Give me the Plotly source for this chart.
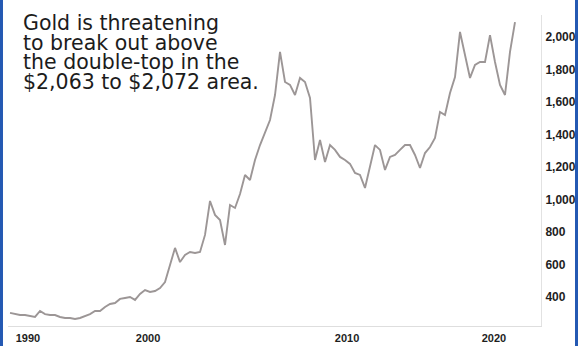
import plotly.graph_objects as go

start_year = 1988.13
step_year = 0.3209
gold_price = [
    302, 295, 289, 289, 283, 277, 314, 295, 289, 289,
    277, 271, 271, 265, 271, 283, 295, 314, 314, 339,
    357, 363, 388, 394, 400, 382, 419, 443, 431, 437,
    455, 492, 597, 702, 615, 659, 677, 671, 677, 782,
    991, 905, 874, 720, 966, 948, 1034, 1151, 1120, 1243,
    1335, 1409, 1489, 1643, 1908, 1723, 1705, 1643, 1748, 1723,
    1625, 1243, 1366, 1231, 1335, 1305, 1262, 1243, 1219, 1163,
    1151, 1071, 1212, 1335, 1305, 1182, 1262, 1274, 1305, 1335,
    1335, 1274, 1194, 1286, 1323, 1379, 1539, 1520, 1655, 1754,
    2031, 1889, 1748, 1828, 1846, 1846, 2012, 1846, 1705, 1643,
    1908, 2092,
]
years = [start_year + step_year * i for i in range(len(gold_price))]

# tick labels (positions as they appear on the chart's time axis)
x_tick_vals = [1989.28, 1996.99, 2009.76, 2019.19]
x_tick_text = ["1990", "2000", "2010", "2020"]
y_tick_vals = [400, 600, 800, 1000, 1200, 1400, 1600, 1800, 2000]

note_lines = [
    "Gold is threatening",
    "to break out above",
    "the double-top in the",
    "$2,063 to $2,072 area.",
]

fig = go.Figure()
fig.add_trace(go.Scatter(
    x=years, y=gold_price, mode="lines",
    line=dict(color="#9c9696", width=1.9),
    hoverinfo="skip", showlegend=False,
))

fig.update_layout(
    width=578, height=346,
    margin=dict(l=8, r=37, t=15, b=20, autoexpand=False),
    paper_bgcolor="white", plot_bgcolor="white",
    showlegend=False,
    xaxis=dict(
        range=[1988, 2022.21], showgrid=False, zeroline=False, automargin=False,
        showline=True, linecolor="#dedede", linewidth=1,
        tickmode="array", tickvals=x_tick_vals, ticktext=x_tick_text,
        ticks="", ticklabelstandoff=2,
        tickfont=dict(family="Liberation Sans, Arial", size=11, color="#1e1e1e", weight="bold"),
    ),
    yaxis=dict(
        range=[221.5, 2135.4], side="right", showgrid=False, zeroline=False, automargin=False,
        showline=True, linecolor="#e2e2e2", linewidth=1,
        tickmode="array", tickvals=y_tick_vals, tickformat=",d",
        ticks="", ticklabelstandoff=1,
        tickfont=dict(family="Liberation Sans, Arial", size=12, color="#1e1e1e", weight="bold"),
    ),
)

shifts = [-7.5, -27.5, -47, -66.5]
for line_text, dy in zip(note_lines, shifts):
    fig.add_annotation(
        text=line_text, xref="paper", yref="paper", x=0, y=1,
        xanchor="left", yanchor="middle", xshift=13, yshift=dy,
        showarrow=False,
        font=dict(family="DejaVu Sans", size=20.5, color="#1c1c1c"),
    )

# blue frame on the left and right edges
for x0, x1 in [(-0.0150, -0.0094), (1.0638, 1.0700)]:
    fig.add_shape(type="rect", xref="paper", yref="paper",
                  x0=x0, x1=x1, y0=-0.07, y1=1.05,
                  fillcolor="#2459b3", line=dict(width=0), layer="above")

fig.write_html("out.html", config={"displayModeBar": False},
               post_script="document.body.style.margin='0';document.body.style.padding='0';")
